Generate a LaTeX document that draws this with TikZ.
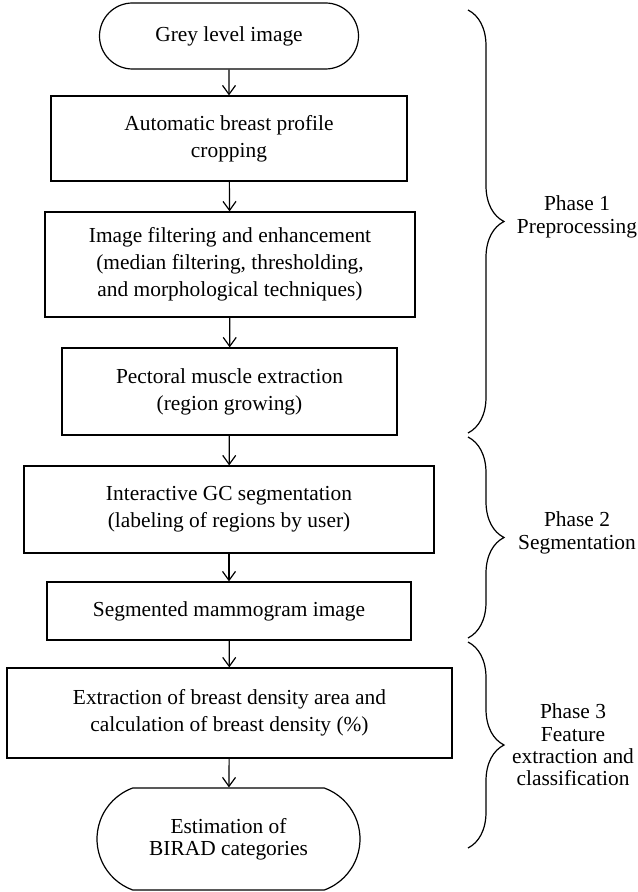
\documentclass[tikz,border=0pt]{standalone}
\usepackage{fontspec}
\setmainfont{Liberation Serif}
\usetikzlibrary{arrows.meta,shapes.misc,decorations.pathreplacing}

\tikzset{
  box/.style={draw,line width=.6pt,align=center,inner sep=0pt,font=\fontsize{10.7}{13.6}\selectfont},
  term/.style={box,rounded rectangle,font=\fontsize{10.7}{11}\selectfont},
  flow/.style={line width=.6pt,-{Straight Barb[length=4.5pt,width=6.5pt]}},
  phasebrace/.style={line width=.6pt,decorate,decoration={brace,amplitude=18pt,aspect=.5}},
  phase/.style={align=center,font=\fontsize{10.7}{11.2}\selectfont}
}

\begin{document}
\begin{tikzpicture}[yscale=-1,x=.5pt,y=.5pt]

    \useasboundingbox (0,0) rectangle (637,892);

    \node[term,minimum width=129.5pt,minimum height=33pt] (grey) at (229,36) {Grey level image};
    \node[box,minimum width=178pt,minimum height=42.5pt] (crop) at (229,138.5) {Automatic breast profile\\cropping};
    \node[box,minimum width=185pt,minimum height=52.5pt] (filt) at (230,264.5) {Image filtering and enhancement\\(median filtering, thresholding,\\and morphological techniques)};
    \node[box,minimum width=167.5pt,minimum height=43.5pt] (pect) at (229.5,391.5) {Pectoral muscle extraction\\(region growing)};
    \node[box,minimum width=205pt,minimum height=43.5pt] (gcseg) at (229,509.5) {Interactive GC segmentation\\(labeling of regions by user)};
    \node[box,minimum width=182pt,minimum height=29pt] (segm) at (229,611) {Segmented mammogram image};
    \node[box,minimum width=222.5pt,minimum height=45pt] (dens) at (229.5,713) {Extraction of breast density area and\\calculation of breast density (\%)};
    \node[term,rounded rectangle arc length=140,minimum width=131.5pt,minimum height=51pt] (birad) at (228.5,839) {Estimation of\\BIRAD categories};

    \draw[flow] (grey) -- (crop);
    \draw[flow] (crop) -- (filt);
    \draw[flow] (filt) -- (pect);
    \draw[flow] (pect) -- (gcseg);
    \draw[flow] (gcseg) -- (segm);
    \draw[flow] (segm) -- (dens);
    \draw[flow] (dens) -- (birad);

    \draw[phasebrace] (468,10) -- (468,433);
    \draw[phasebrace] (468,437) -- (468,638);
    \draw[phasebrace] (468,642) -- (468,848);

    \node[phase] (ph1) at (577,217) {Phase 1\\Preprocessing};
    \node[phase] (ph2) at (577,533) {Phase 2\\Segmentation};
    \node[phase] (ph3) at (573,745) {Phase 3\\Feature\\extraction and\\classification};
\end{tikzpicture}
\end{document}
